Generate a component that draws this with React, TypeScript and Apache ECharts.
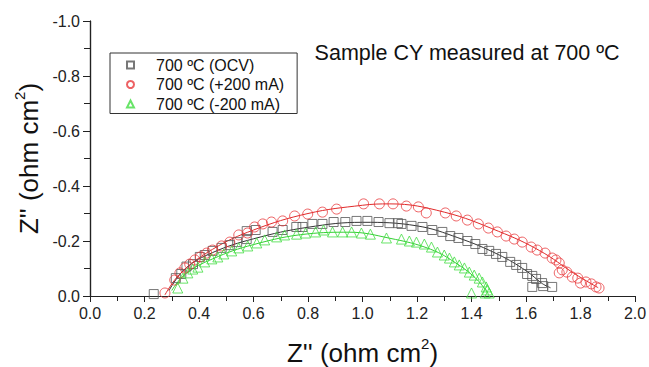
import React, { useEffect, useRef } from "react";
import * as echarts from "echarts";

// Nyquist data: [Z' (ohm cm2), Z'' (ohm cm2)]
const ocvPoints: number[][] = [
  [0.234, -0.007], [0.315, -0.065], [0.335, -0.08], [0.354, -0.107], [0.378, -0.116], [0.403, -0.142],
  [0.421, -0.149], [0.45, -0.164], [0.483, -0.175], [0.513, -0.185], [0.54, -0.196], [0.575, -0.207],
  [0.575, -0.236], [0.608, -0.24], [0.67, -0.233], [0.707, -0.24], [0.757, -0.251], [0.78, -0.251],
  [0.816, -0.262], [0.853, -0.262], [0.894, -0.269], [0.937, -0.269], [0.978, -0.273], [1.018, -0.273],
  [1.059, -0.269], [1.099, -0.265], [1.13, -0.265], [1.143, -0.262], [1.18, -0.255], [1.22, -0.251],
  [1.256, -0.24], [1.293, -0.233], [1.322, -0.218], [1.352, -0.211], [1.385, -0.2], [1.414, -0.189],
  [1.44, -0.171], [1.465, -0.164], [1.49, -0.153], [1.513, -0.142], [1.542, -0.124], [1.564, -0.113],
  [1.586, -0.102], [1.604, -0.08], [1.623, -0.073], [1.637, -0.062], [1.659, -0.047], [1.663, -0.036],
  [1.623, -0.033], [1.696, -0.033],
];
const plusPoints: number[][] = [
  [0.275, -0.011], [0.311, -0.058], [0.33, -0.084], [0.348, -0.102], [0.366, -0.116], [0.385, -0.131],
  [0.405, -0.142], [0.428, -0.156], [0.45, -0.167], [0.483, -0.182], [0.513, -0.196], [0.546, -0.222],
  [0.578, -0.229], [0.604, -0.251], [0.634, -0.262], [0.666, -0.269], [0.707, -0.273], [0.751, -0.291],
  [0.799, -0.298], [0.853, -0.305], [0.905, -0.316], [1.004, -0.335], [1.062, -0.335], [1.112, -0.335],
  [1.161, -0.327], [1.205, -0.324], [1.234, -0.302], [1.304, -0.302], [1.344, -0.291], [1.385, -0.276],
  [1.425, -0.262], [1.462, -0.247], [1.495, -0.233], [1.527, -0.218], [1.557, -0.207], [1.586, -0.196],
  [1.619, -0.178], [1.641, -0.167], [1.67, -0.156], [1.696, -0.138], [1.71, -0.131], [1.722, -0.12],
  [1.733, -0.095], [1.722, -0.084], [1.75, -0.087], [1.77, -0.069], [1.79, -0.065], [1.8, -0.047],
  [1.82, -0.051], [1.84, -0.044], [1.857, -0.033], [1.868, -0.029],
];
const minusPoints: number[][] = [
  [0.322, -0.029], [0.341, -0.065], [0.359, -0.084], [0.377, -0.098], [0.396, -0.105], [0.421, -0.124],
  [0.447, -0.135], [0.469, -0.142], [0.491, -0.153], [0.52, -0.164], [0.546, -0.175], [0.579, -0.182],
  [0.612, -0.193], [0.641, -0.204], [0.685, -0.215], [0.714, -0.222], [0.758, -0.225], [0.791, -0.229],
  [0.828, -0.233], [0.857, -0.24], [0.89, -0.233], [0.927, -0.233], [0.96, -0.233], [0.996, -0.229],
  [1.029, -0.225], [1.088, -0.211], [1.143, -0.207], [1.172, -0.2], [1.198, -0.196], [1.227, -0.189],
  [1.253, -0.178], [1.275, -0.16], [1.3, -0.149], [1.319, -0.138], [1.337, -0.124], [1.355, -0.113],
  [1.374, -0.102], [1.392, -0.087], [1.41, -0.076], [1.428, -0.065], [1.44, -0.051], [1.454, -0.033],
  [1.458, -0.022], [1.465, -0.011], [1.4, -0.011], [1.45, -0.011],
];

// Fitted curves
const ocvFit: number[][] = [
  [0.29, -0.02], [0.35, -0.1], [0.45, -0.158], [0.6, -0.208], [0.8, -0.25], [1.0, -0.268],
  [1.2, -0.255], [1.35, -0.212], [1.5, -0.15], [1.6, -0.092], [1.66, -0.045], [1.69, -0.03],
];
const plusFit: number[][] = [
  [0.275, -0.004], [0.33, -0.08], [0.45, -0.17], [0.6, -0.24], [0.8, -0.3], [1.0, -0.33],
  [1.1, -0.335], [1.3, -0.305], [1.5, -0.235], [1.65, -0.165], [1.78, -0.08], [1.865, -0.03],
];
const minusFit: number[][] = [
  [0.3, -0.02], [0.35, -0.08], [0.45, -0.135], [0.6, -0.187], [0.8, -0.226], [0.95, -0.232],
  [1.1, -0.21], [1.25, -0.17], [1.35, -0.115], [1.42, -0.06], [1.46, -0.01],
];

const seriesNames = ["700 ºC (OCV)", "700 ºC (+200 mA)", "700 ºC (-200 mA)"];
const seriesColors = ["#555555", "#e8393c", "#44dd44"];
const fitColors = ["#333333", "#e02a2a", "#33d033"];
const seriesSymbols = ["rect", "circle", "triangle"];
const titleText = "Sample CY measured at 700 ºC";
const FONT = "Liberation Sans, Arial, sans-serif";

export default function App() {
  const ref = useRef<HTMLDivElement>(null);
  useEffect(() => {
    if (!ref.current) return;
    const chart = echarts.init(ref.current, null, { renderer: "svg" });
    const pointSets = [ocvPoints, plusPoints, minusPoints];
    const fitSets = [ocvFit, plusFit, minusFit];
    const symbolSizes = [9, 10, 10];
    const axisLine = { show: true, lineStyle: { color: "#222", width: 1.2 } };
    const nameRich = {
      b: { fontSize: 26, fontFamily: FONT, color: "#111", lineHeight: 30, verticalAlign: "bottom" as const },
      s: { fontSize: 15, fontFamily: FONT, color: "#111", lineHeight: 30, verticalAlign: "top" as const },
    };
    chart.setOption({
      animation: false,
      backgroundColor: "#fff",
      title: {
        text: titleText,
        right: 24,
        top: 37,
        textStyle: { fontSize: 21.5, fontWeight: "normal", fontFamily: FONT, color: "#111" },
      },
      legend: {
        orient: "vertical",
        left: 110,
        top: 53,
        data: seriesNames,
        itemWidth: 7,
        itemHeight: 7,
        itemGap: 2.5,
        padding: [3.5, 13, 1, 16],
        borderColor: "#333",
        borderWidth: 1,
        textStyle: { fontSize: 16, fontFamily: FONT, color: "#111", lineHeight: 17, padding: [0, 0, 0, 17] },
      },
      grid: { left: 90, right: 14, top: 21, bottom: 71, outerBoundsMode: "none" },
      xAxis: [
        {
          type: "value",
          position: "bottom",
          min: 0,
          max: 2,
          interval: 0.2,
          name: "{b|Z'' (ohm cm}{s|2}{b|)}",
          nameLocation: "middle",
          nameGap: 40,
          nameTextStyle: { rich: nameRich },
          axisLine,
          axisTick: { show: true, inside: false, length: 6, lineStyle: { color: "#222" } },
          minorTick: { show: true, splitNumber: 2, length: 4, lineStyle: { color: "#222" } },
          splitLine: { show: false },
          axisLabel: {
            fontSize: 16,
            fontFamily: FONT,
            color: "#222",
            margin: 9,
            formatter: (v: number) => v.toFixed(1),
          },
        },
        {
          type: "value",
          position: "top",
          min: 0,
          max: 2,
          interval: 0.1,
          axisLine,
          axisTick: { show: true, inside: true, length: 5, lineStyle: { color: "#222" } },
          axisLabel: { show: false },
          splitLine: { show: false },
        },
      ],
      yAxis: [
        {
          type: "value",
          position: "left",
          min: -1,
          max: 0,
          interval: 0.2,
          inverse: true,
          name: "{b|Z'' (ohm cm}{s|2}{b|)}",
          nameLocation: "middle",
          nameGap: 47,
          nameTextStyle: { rich: nameRich },
          axisLine,
          axisTick: { show: true, inside: false, length: 7, lineStyle: { color: "#222" } },
          minorTick: { show: true, splitNumber: 2, length: 4, lineStyle: { color: "#222" } },
          splitLine: { show: false },
          axisLabel: {
            fontSize: 16,
            fontFamily: FONT,
            color: "#222",
            margin: 10,
            formatter: (v: number) => (Math.abs(v) < 1e-9 ? "0.0" : v.toFixed(1)),
          },
        },
        {
          type: "value",
          position: "right",
          min: -1,
          max: 0,
          interval: 0.1,
          inverse: true,
          axisLine,
          axisTick: { show: true, inside: true, length: 6, lineStyle: { color: "#222" } },
          axisLabel: { show: false },
          splitLine: { show: false },
        },
      ],
      series: [
        ...fitSets.map((d, i) => ({
          type: "line",
          name: seriesNames[i] + " fit",
          data: d,
          smooth: 0.4,
          showSymbol: false,
          symbol: "none",
          lineStyle: { color: fitColors[i], width: 1 },
          silent: true,
          z: 2,
        })),
        ...pointSets.map((d, i) => ({
          type: "scatter",
          name: seriesNames[i],
          data: d,
          symbol: seriesSymbols[i],
          symbolSize: symbolSizes[i],
          itemStyle: { color: "transparent", borderColor: seriesColors[i], borderWidth: 1 },
          z: 3,
        })),
      ],
    });
    return () => chart.dispose();
  }, []);
  return <div ref={ref} style={{ position: "fixed", left: 0, top: 0, width: 649, height: 367 }} />;
}
